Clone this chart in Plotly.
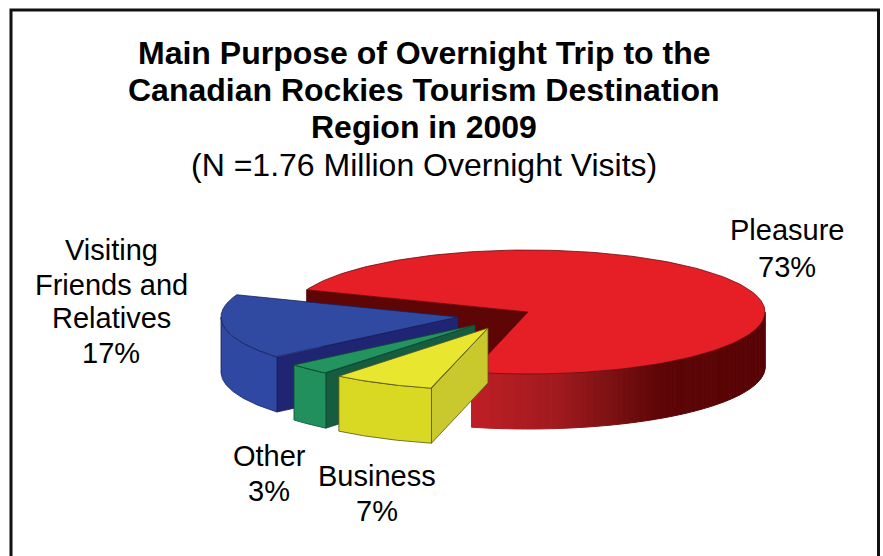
import numpy as np
import plotly.graph_objects as go

# ---- data ----
categories = ["Pleasure", "Business", "Other", "Visiting Friends and Relatives"]
values = [73, 7, 3, 17]
label_lines = [["Pleasure"], ["Business"], ["Other"], ["Visiting", "Friends and", "Relatives"]]
title_lines = ["Main Purpose of Overnight Trip to the",
               "Canadian Rockies Tourism Destination",
               "Region in 2009"]
subtitle = "(N =1.76 Million Overnight Visits)"

# ---- geometry / style ----
W, H = 883, 556
START = 159.0
A, B, DEPTH = 237.0, 62.0, 55.0
apex = {"Pleasure": (528, 312), "Business": (488, 328), "Other": (475, 325),
        "Visiting Friends and Relatives": (458, 317)}
top_col = {"Pleasure": "#E61F27", "Business": "#E8E62E", "Other": "#23945F",
           "Visiting Friends and Relatives": "#2F4AA0"}
rim_col = {"Business": "#D9D822", "Other": "#21905C",
           "Visiting Friends and Relatives": "#2F49A2"}
cut_col = {"Pleasure": "#5E0606", "Business": "#C9C92E", "Other": "#155C40",
           "Visiting Friends and Relatives": "#1F2572"}
edge_col = {"Pleasure": "#6A0A0C", "Business": "#55551A", "Other": "#0F4A30",
            "Visiting Friends and Relatives": "#18205E"}
red_stops_x = [473, 560, 600, 660, 770]
red_stops_c = [(190, 32, 38), (160, 26, 30), (132, 20, 22), (94, 6, 8), (88, 4, 6)]

fig = go.Figure()


def poly(xs, ys, fill, line=None, lw=1.0):
    fig.add_trace(go.Scatter(x=list(xs), y=list(ys), mode="lines", fill="toself",
                             fillcolor=fill, line=dict(color=line or fill, width=lw),
                             hoverinfo="skip", showlegend=False))


def rim(ax, ay, t):
    r = np.radians(t)
    return ax + A * np.cos(r), ay - B * np.sin(r)


def red_colour(x):
    c = [np.interp(x, red_stops_x, [s[i] for s in red_stops_c]) for i in range(3)]
    return "rgb(%d,%d,%d)" % tuple(int(v) for v in c)


# Angular spans, clockwise from START, come from the values
total = sum(values)
spans = {}
cur = START
for name, v in zip(categories, values):
    spans[name] = (cur, cur - 360.0 * v / total)
    cur = spans[name][1]

draw_order = ["Pleasure", "Visiting Friends and Relatives", "Other", "Business"]
for name in draw_order:
    a0, a1 = spans[name]
    ax, ay = apex[name]
    ts = np.linspace(a0, a1, 160)
    rx, ry = rim(ax, ay, ts)
    cx, cy = rim(ax, ay, a0)

    if name == "Pleasure":
        # back cut face seen through the gap between the slices
        poly([cx, ax, ax, cx, cx], [cy, ay, ay + DEPTH, cy + DEPTH, cy], cut_col[name])
        # outer wall, shaded band by band
        bands = np.linspace(a1, 0, 70)
        for b0, b1 in zip(bands[:-1], bands[1:]):
            x, y = rim(ax, ay, np.linspace(b0, b1, 4))
            poly(np.r_[x, x[::-1], x[0]], np.r_[y, y[::-1] + DEPTH, y[0]], red_colour(x.mean()))
    else:
        # cut face at the slice's start angle
        poly([cx, ax, ax, cx, cx], [cy, ay, ay + DEPTH, cy + DEPTH, cy],
             cut_col[name], edge_col[name], 0.8)
        # visible outer wall (front half of the ellipse only)
        x, y = rim(ax, ay, np.linspace(max(a1, -180), a0, 60))
        poly(np.r_[x, x[::-1], x[0]], np.r_[y, y[::-1] + DEPTH, y[0]],
             rim_col[name], edge_col[name], 0.8)

    # top face
    poly(np.r_[ax, rx, ax], np.r_[ay, ry, ay], top_col[name], edge_col[name], 0.8)

# ---- text ----
FONT = "Liberation Sans"
ann = []


def text(x, y, s, size=29, bold=False):
    ann.append(dict(x=x, y=y, xref="x", yref="y", text=("<b>%s</b>" % s) if bold else s,
                    showarrow=False, xanchor="center", yanchor="middle",
                    font=dict(family=FONT, size=size, color="#000000")))


for yy, s in zip([53, 90, 127], title_lines):
    text(424, yy, s, 32, True)
text(424, 165, subtitle, 32)

label_pos = {"Pleasure": (787, [230]), "Business": (377, [476]), "Other": (269, [456]),
             "Visiting Friends and Relatives": (111, [250, 285, 318])}
pct_y = {"Pleasure": 267, "Business": 511, "Other": 491, "Visiting Friends and Relatives": 353}
for name, lines, v in zip(categories, label_lines, values):
    lx, lys = label_pos[name]
    for yy, s in zip(lys, lines):
        text(lx, yy, s)
    text(lx, pct_y[name], "%d%%" % v)

fig.update_layout(
    width=W, height=H, margin=dict(l=0, r=0, t=0, b=0),
    paper_bgcolor="white", plot_bgcolor="white", showlegend=False,
    xaxis=dict(range=[0, W], visible=False, fixedrange=True),
    yaxis=dict(range=[H, 0], visible=False, fixedrange=True),
    annotations=ann,
    shapes=[dict(type="rect", xref="x", yref="y", x0=11, y0=10, x1=878.5, y1=620,
                 line=dict(color="#111111", width=3), layer="below")],
)
fig.write_html("out.html", config={"displayModeBar": False},
               post_script="document.body.style.margin='0';document.body.style.overflow='hidden';")
